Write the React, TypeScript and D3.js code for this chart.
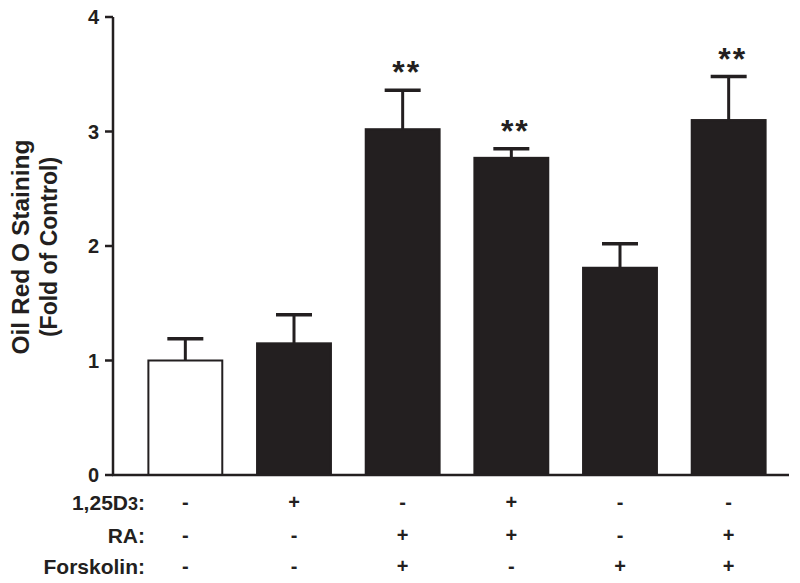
import React from 'react';
import * as d3 from 'd3';

const groups = ['g1', 'g2', 'g3', 'g4', 'g5', 'g6'];
const means = [1.0, 1.15, 3.02, 2.77, 1.81, 3.1];
const errors = [0.19, 0.25, 0.34, 0.08, 0.21, 0.38];
const fills = ['#ffffff', '#231f20', '#231f20', '#231f20', '#231f20', '#231f20'];
const stars = ['', '', '**', '**', '', '**'];
const yTicks = [0, 1, 2, 3, 4];
const d3Row = ['-', '+', '-', '+', '-', '-'];
const raRow = ['-', '-', '+', '+', '-', '+'];
const forskolinRow = ['-', '-', '+', '-', '+', '+'];

const W = 800;
const H = 583;
const ink = '#231f20';
const font = '"Liberation Sans", Arial, sans-serif';

function App() {
  const x = d3.scaleBand().domain(groups).range([131, 783]).paddingInner(0.32).paddingOuter(0.16);
  const y = d3.scaleLinear().domain([0, 4]).range([475, 17]);
  const bw = x.bandwidth();
  const cx = (g: string) => (x(g) as number) + bw / 2;

  const rows = [
    { label: '1,25D', sub: '3', vals: d3Row, y: 502 },
    { label: 'RA:', sub: '', vals: raRow, y: 535 },
    { label: 'Forskolin:', sub: '', vals: forskolinRow, y: 566 },
  ];

  return (
    <svg width={W} height={H} style={{ position: 'absolute', left: 0, top: 0, background: '#fff' }}>
      {/* bars */}
      {groups.map((g, i) => (
        <g key={g}>
          <line x1={cx(g)} x2={cx(g)} y1={y(means[i])} y2={y(means[i] + errors[i])} stroke={ink} strokeWidth={3} />
          <line x1={cx(g) - 18} x2={cx(g) + 18} y1={y(means[i] + errors[i])} y2={y(means[i] + errors[i])} stroke={ink} strokeWidth={3.5} />
          <rect x={x(g)} y={y(means[i])} width={bw} height={y(0) - y(means[i])} fill={fills[i]} stroke={ink} strokeWidth={2} />
          {stars[i] && (
            <text x={cx(g) + 4} y={y(means[i] + errors[i]) - 7} textAnchor="middle" fontFamily={font} fontWeight="bold" fontSize={32} letterSpacing={2} fill={ink}>
              {stars[i]}
            </text>
          )}
        </g>
      ))}

      {/* axes */}
      <line x1={113} x2={113} y1={y(4)} y2={y(0)} stroke={ink} strokeWidth={2.5} />
      <line x1={112} x2={789} y1={y(0)} y2={y(0)} stroke={ink} strokeWidth={2.5} />
      {yTicks.map((t) => (
        <g key={t}>
          <line x1={105} x2={113} y1={y(t)} y2={y(t)} stroke={ink} strokeWidth={2.5} />
          <text x={99} y={y(t)} dy="0.36em" textAnchor="end" fontFamily={font} fontWeight="bold" fontSize={20} fill={ink}>
            {t}
          </text>
        </g>
      ))}

      {/* y title */}
      <g transform="translate(0,247) rotate(-90)" fontFamily={font} fontWeight="bold" fill={ink} textAnchor="middle">
        <text x={0} y={29} fontSize={24.5}>Oil Red O Staining</text>
        <text x={0} y={57} fontSize={23}>(Fold of Control)</text>
      </g>

      {/* treatment table */}
      {rows.map((r) => (
        <g key={r.label} fontFamily={font} fontWeight="bold" fill={ink}>
          <text x={145} y={r.y} dy="0.36em" textAnchor="end" fontSize={21}>
            {r.label}
            {r.sub && <tspan fontSize={18}>{r.sub}</tspan>}
            {r.sub && ':'}
          </text>
          {groups.map((g, i) => (
            <text key={g} x={cx(g)} y={r.y} dy="0.36em" textAnchor="middle" fontSize={20}>
              {r.vals[i]}
            </text>
          ))}
        </g>
      ))}
    </svg>
  );
}

export default App;
